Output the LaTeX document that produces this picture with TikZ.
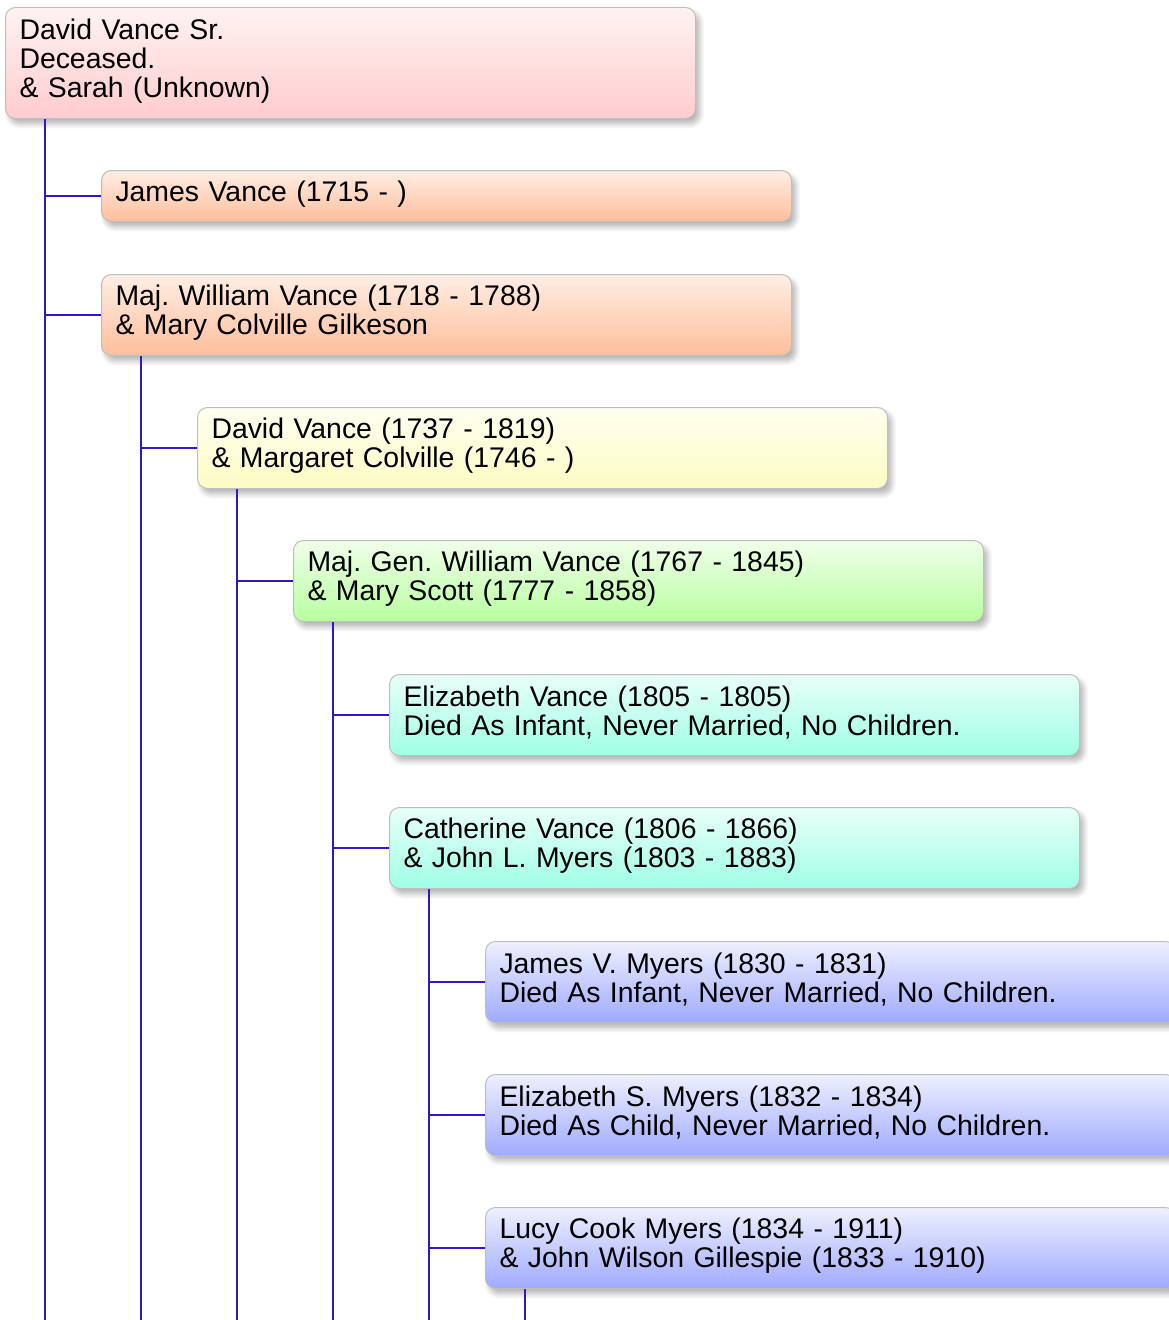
\documentclass[tikz,border=0pt]{standalone}
\usepackage{fontspec}
\setmainfont{Liberation Sans}
\usepackage{tikz}
\usetikzlibrary{shadows.blur}

\definecolor{treeline}{RGB}{52,20,210}
\definecolor{boxedge}{RGB}{190,190,190}

\tikzset{
  person/.style={draw=boxedge, line width=0.75pt, rounded corners=7.5pt,
    anchor=north west, minimum width=517.5pt, minimum height=60.75pt,
    inner xsep=10.5pt, inner ysep=0pt, text width=496.5pt, align=left,
    font=\frenchspacing\fontsize{21.3pt}{21.75pt}\selectfont,
    execute at end node={\par\kern3pt},
    blur shadow={shadow xshift=3pt, shadow yshift=-4pt, shadow blur radius=4pt,
      shadow blur steps=8, shadow opacity=30}},
  gen0/.style={top color={rgb,255:red,255;green,242;blue,242}, bottom color={rgb,255:red,255;green,204;blue,206}},
  gen1/.style={top color={rgb,255:red,255;green,238;blue,228}, bottom color={rgb,255:red,255;green,190;blue,156}},
  gen2/.style={top color={rgb,255:red,255;green,255;blue,240}, bottom color={rgb,255:red,252;green,252;blue,196}},
  gen3/.style={top color={rgb,255:red,240;green,255;blue,234}, bottom color={rgb,255:red,184;green,255;blue,160}},
  gen4/.style={top color={rgb,255:red,232;green,255;blue,248}, bottom color={rgb,255:red,160;green,255;blue,230}},
  gen5/.style={top color={rgb,255:red,238;green,240;blue,255}, bottom color={rgb,255:red,160;green,170;blue,255}},
  tline/.style={draw=treeline, line width=1.4pt}
}

\begin{document}
\begin{tikzpicture}[x=0.75pt, y=-0.75pt]
  \useasboundingbox (0,0) rectangle (1169,1320);

  % generation 0
  \node[person, gen0, minimum height=83.25pt] (dvs) at (5,7)
    {David Vance Sr.\\Deceased.\\\& Sarah (Unknown)};

  % generation 1
  \node[person, gen1, minimum height=38.25pt] (jv) at (101,170)
    {James Vance (1715 - )};
  \node[person, gen1] (mwv) at (101,274)
    {Maj. William Vance (1718 - 1788)\\\& Mary Colville Gilkeson};

  % generation 2
  \node[person, gen2] (dv) at (197,407)
    {David Vance (1737 - 1819)\\\& Margaret Colville (1746 - )};

  % generation 3
  \node[person, gen3] (mgwv) at (293,540)
    {Maj. Gen. William Vance (1767 - 1845)\\\& Mary Scott (1777 - 1858)};

  % generation 4
  \node[person, gen4] (ev) at (389,674)
    {Elizabeth Vance (1805 - 1805)\\Died As Infant, Never Married, No Children.};
  \node[person, gen4] (cv) at (389,807)
    {Catherine Vance (1806 - 1866)\\\& John L. Myers (1803 - 1883)};

  % generation 5
  \node[person, gen5] (jvm) at (485,941)
    {James V. Myers (1830 - 1831)\\Died As Infant, Never Married, No Children.};
  \node[person, gen5] (esm) at (485,1074)
    {Elizabeth S. Myers (1832 - 1834)\\Died As Child, Never Married, No Children.};
  \node[person, gen5] (lcm) at (485,1207)
    {Lucy Cook Myers (1834 - 1911)\\\& John Wilson Gillespie (1833 - 1910)};

  % trunk ends at the bottom edge
  \coordinate (t0) at (45,1320);
  \coordinate (t1) at (141,1320);
  \coordinate (t2) at (237,1320);
  \coordinate (t3) at (333,1320);
  \coordinate (t4) at (429,1320);
  \coordinate (t5) at (525,1320);

  % trunks
  \draw[tline] (dvs.south -| t0) -- (t0);
  \draw[tline] (mwv.south -| t1) -- (t1);
  \draw[tline] (dv.south -| t2) -- (t2);
  \draw[tline] (mgwv.south -| t3) -- (t3);
  \draw[tline] (cv.south -| t4) -- (t4);
  \draw[tline] (lcm.south -| t5) -- (t5);

  % branches
  \draw[tline] (jv.west -| t0) -- (jv.west);
  \draw[tline] (mwv.west -| t0) -- (mwv.west);
  \draw[tline] (dv.west -| t1) -- (dv.west);
  \draw[tline] (mgwv.west -| t2) -- (mgwv.west);
  \draw[tline] (ev.west -| t3) -- (ev.west);
  \draw[tline] (cv.west -| t3) -- (cv.west);
  \draw[tline] (jvm.west -| t4) -- (jvm.west);
  \draw[tline] (esm.west -| t4) -- (esm.west);
  \draw[tline] (lcm.west -| t4) -- (lcm.west);
\end{tikzpicture}
\end{document}
